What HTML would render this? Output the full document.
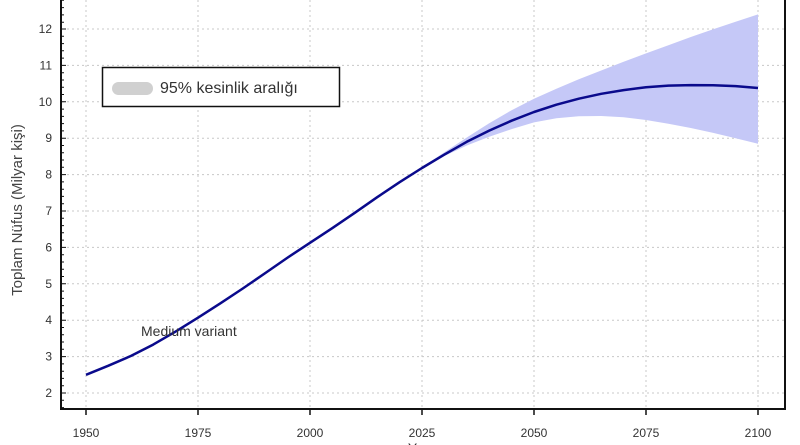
<!DOCTYPE html>
<html><head><meta charset="utf-8"><style>
html,body{margin:0;padding:0;background:#fff;}
svg{display:block;font-family:"Liberation Sans",sans-serif;}
</style></head><body>
<svg width="800" height="445" viewBox="0 0 800 445" xmlns="http://www.w3.org/2000/svg">
<rect width="800" height="445" fill="#fff"/>
<g stroke="#c8c8c8" stroke-width="1" stroke-dasharray="2,3">
<line x1="62" x2="784" y1="29" y2="29"/><line x1="62" x2="784" y1="65.4" y2="65.4"/>
<line x1="62" x2="784" y1="101.8" y2="101.8"/><line x1="62" x2="784" y1="138.2" y2="138.2"/>
<line x1="62" x2="784" y1="174.6" y2="174.6"/><line x1="62" x2="784" y1="211" y2="211"/>
<line x1="62" x2="784" y1="247.4" y2="247.4"/><line x1="62" x2="784" y1="283.8" y2="283.8"/>
<line x1="62" x2="784" y1="320.2" y2="320.2"/><line x1="62" x2="784" y1="356.6" y2="356.6"/>
<line x1="62" x2="784" y1="393" y2="393"/>
<line x1="86" x2="86" y1="0" y2="409"/><line x1="198" x2="198" y1="0" y2="409"/>
<line x1="310" x2="310" y1="0" y2="409"/><line x1="422" x2="422" y1="0" y2="409"/>
<line x1="534" x2="534" y1="0" y2="409"/><line x1="646" x2="646" y1="0" y2="409"/>
<line x1="758" x2="758" y1="0" y2="409"/>
</g>
<polygon fill="#c5c8f7" points="410,175 422,167.3 444.4,152.3 466.8,137.5 489.2,123.2 511.6,110.2 534,98.8 556.4,88.7 578.8,79.3 601.2,70.5 623.6,61.8 646,53.4 668.4,45.2 690.8,37 713.2,29.2 735.6,21.7 758,14.4 758,143.7 735.6,138.2 713.2,132.9 690.8,128 668.4,123.8 646,120 623.6,117.3 601.2,116 578.8,116.2 556.4,118.2 534,122.4 511.6,129.1 489.2,136.8 466.8,145.5 444.4,156 422,168.8"/>
<polyline fill="none" stroke="#0a0a8c" stroke-width="2.5" stroke-linejoin="round" points="86,374.8 108.4,365.7 130.8,356 153.2,344.6 175.6,331.6 198,317.7 220.4,303.3 242.8,288.5 265.2,273.1 287.6,257.6 310,242.8 332.4,228.1 354.8,212.8 377.2,197.2 399.6,182.2 422,168 444.4,154.6 466.8,141.8 489.2,130.6 511.6,120.7 534,112 556.4,104.7 578.8,98.7 601.2,93.8 623.6,90.1 646,87.2 668.4,85.6 690.8,85.1 713.2,85.2 735.6,86.1 758,88"/>
<g stroke="#111" stroke-width="2" fill="none">
<line x1="61" y1="0" x2="61" y2="410"/>
<line x1="60" y1="409" x2="786" y2="409"/>
<line x1="785" y1="0" x2="785" y2="410"/>
</g>
<g stroke="#111" stroke-width="1.5">
<line x1="86" x2="86" y1="409" y2="415"/><line x1="198" x2="198" y1="409" y2="415"/>
<line x1="310" x2="310" y1="409" y2="415"/><line x1="422" x2="422" y1="409" y2="415"/>
<line x1="534" x2="534" y1="409" y2="415"/><line x1="646" x2="646" y1="409" y2="415"/>
<line x1="758" x2="758" y1="409" y2="415"/>
</g>
<path stroke="#111" stroke-width="1" d="M61 0.3h3M61 7.6h3M61 14.9h3M61 22.2h3M61 29h5M61 36.3h3M61 43.6h3M61 50.8h3M61 58.1h3M61 65.4h5M61 72.7h3M61 80h3M61 87.2h3M61 94.5h3M61 101.8h5M61 109.1h3M61 116.4h3M61 123.6h3M61 130.9h3M61 138.2h5M61 145.5h3M61 152.8h3M61 160h3M61 167.3h3M61 174.6h5M61 181.9h3M61 189.2h3M61 196.4h3M61 203.7h3M61 211h5M61 218.3h3M61 225.6h3M61 232.8h3M61 240.1h3M61 247.4h5M61 254.7h3M61 262h3M61 269.2h3M61 276.5h3M61 283.8h5M61 291.1h3M61 298.4h3M61 305.6h3M61 312.9h3M61 320.2h5M61 327.5h3M61 334.8h3M61 342h3M61 349.3h3M61 356.6h5M61 363.9h3M61 371.2h3M61 378.4h3M61 385.7h3M61 393h5M61 400.3h3M61 407.6h3"/>
<g font-size="12" fill="#333" text-anchor="end">
<text x="52" y="33">12</text><text x="52" y="69.4">11</text><text x="52" y="105.8">10</text>
<text x="52" y="142.2">9</text><text x="52" y="178.6">8</text><text x="52" y="215">7</text>
<text x="52" y="251.4">6</text><text x="52" y="287.8">5</text><text x="52" y="324.2">4</text>
<text x="52" y="360.6">3</text><text x="52" y="397">2</text>
</g>
<g font-size="12" fill="#333" text-anchor="middle">
<text x="86" y="437">1950</text><text x="198" y="437">1975</text><text x="310" y="437">2000</text>
<text x="422" y="437">2025</text><text x="534" y="437">2050</text><text x="646" y="437">2075</text>
<text x="758" y="437">2100</text>
<text x="422" y="453" font-size="14">Year</text>
</g>
<text transform="translate(22,210) rotate(-90)" text-anchor="middle" font-size="15" fill="#444">Toplam Nüfus (Milyar kişi)</text>
<rect x="102.5" y="67.5" width="237" height="39" fill="#fff" stroke="#111" stroke-width="1.5"/>
<rect x="112" y="82" width="41" height="13" rx="6.5" fill="#d0d0d0"/>
<text x="160" y="93" font-size="16" fill="#333">95%  kesinlik aralığı</text>
<text x="141" y="336" font-size="14" fill="#333">Medium variant</text>
</svg>
</body></html>
